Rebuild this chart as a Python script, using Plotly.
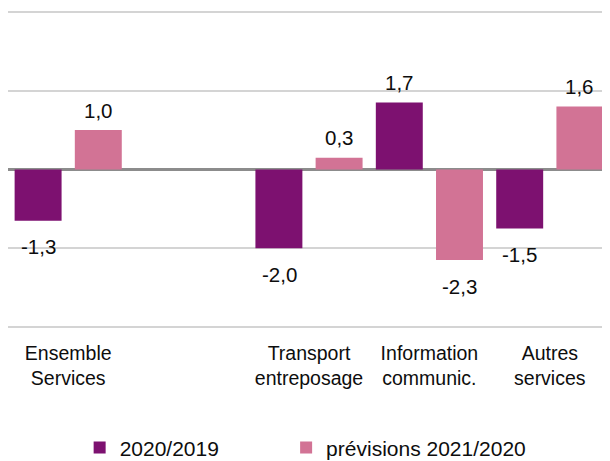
import plotly.graph_objects as go

categories = ["Ensemble<br>Services", " ", "Transport<br>entreposage", "Information<br>communic.", "Autres<br>services"]
series_names = ["2020/2019", "prévisions 2021/2020"]
values_2020 = [-1.3, None, -2.0, 1.7, -1.5]
values_2021 = [1.0, None, 0.3, -2.3, 1.6]

colors = ["#7D1170", "#D27395"]
FONT = "Liberation Sans, Arial"

def fmt(v):
    return f"{v:.1f}".replace(".", ",")

fig = go.Figure()
for name, vals, col, lg in zip(series_names, [values_2020, values_2021], colors,
                               ["legend", "legend2"]):
    fig.add_trace(go.Bar(x=categories, y=vals, name=name, marker_color=col,
                         marker_line_width=0, legend=lg))

# data labels as annotations, anchored to data values
for vals, xs in zip([values_2020, values_2021], [-30, 30]):
    for c, v in zip(categories, vals):
        if v is None:
            continue
        fig.add_annotation(x=c, y=v, xref="x", yref="y", text=fmt(v),
                           showarrow=False, xshift=xs,
                           yshift=20 if v > 0 else -26,
                           font=dict(family=FONT, size=20.5, color="#0d0d0d"))

legend_style = dict(orientation="h", xanchor="left", y=-0.362, yanchor="middle",
                    font=dict(family=FONT, size=21, color="#0d0d0d"),
                    itemwidth=30, bgcolor="rgba(0,0,0,0)")

fig.update_layout(
    width=602, height=453,
    margin=dict(l=0, r=0, t=0, b=130, autoexpand=False),
    paper_bgcolor="white", plot_bgcolor="white",
    barmode="group", bargap=0.0, bargroupgap=0.22,
    showlegend=True,
    legend=dict(x=0.119, **legend_style),
    legend2=dict(x=0.462, **legend_style),
    font=dict(family=FONT, size=19.5, color="#0d0d0d"),
)
fig.update_yaxes(range=[-4.1, 4.1], dtick=2, showticklabels=False, showgrid=True,
                 gridcolor="#D4D4D4", gridwidth=1.5, zeroline=True,
                 zerolinecolor="#8C8C8C", zerolinewidth=2.5, automargin=False)
fig.update_xaxes(showgrid=False, showline=False, ticks="", tickfont=dict(size=19.5),
                 ticklabelstandoff=8, automargin=False)

fig.write_html("out.html")
